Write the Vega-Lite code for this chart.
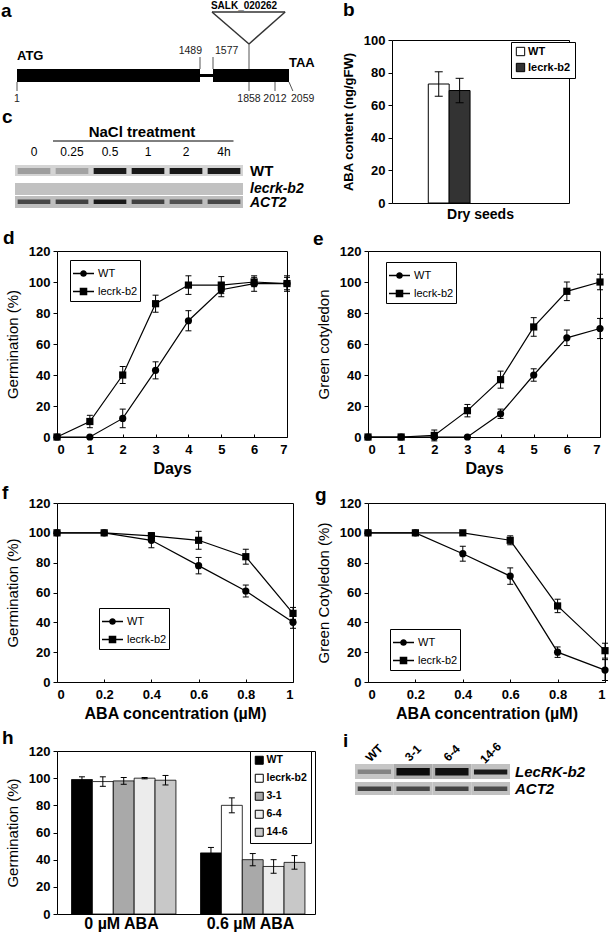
{
  "$schema": "https://vega.github.io/schema/vega-lite/v6.json",
  "background": "white",
  "padding": {"left": 1, "top": 0, "right": 0, "bottom": 0},
  "spacing": 6,
  "resolve": {"scale": {"fill": "independent", "shape": "independent", "color": "independent"}, "legend": {"fill": "independent", "shape": "independent", "color": "independent"}},
  "config": {
    "font": "Liberation Sans",
    "view": {"stroke": "black", "strokeWidth": 1},
    "axis": {"domain": false, "grid": false, "labelOverlap": false, "labelFontSize": 13, "labelFontWeight": "bold", "labelColor": "black", "titleColor": "black", "titleFontSize": 15, "titleFontWeight": "normal", "tickColor": "black", "labelFont": "Liberation Sans", "titleFont": "Liberation Sans"},
    "axisY": {"tickSize": 4, "labelPadding": 3, "titlePadding": 8},
    "axisX": {"tickSize": -3, "labelPadding": 9, "titleFontWeight": "bold", "titleFontSize": 16, "titlePadding": 4},
    "legend": {"labelFont": "Liberation Sans", "labelColor": "black"},
    "title": {"fontSize": 19, "fontWeight": "bold", "anchor": "start", "frame": "group", "baseline": "alphabetic", "color": "black", "font": "Liberation Sans"}
  },
  "datasets": {
    "aset": [
      {"k": "exon", "s": 1, "t": 1489, "y": 70, "y2": 83},
      {"k": "exon", "s": 1577, "t": 2059, "y": 70, "y2": 83},
      {"k": "intron", "s": 1489, "t": 1577, "y": 75, "y2": 78},
      {"k": "tick", "s": 1, "t": 1, "y": 83, "y2": 92},
      {"k": "tick", "s": 1489, "t": 1489, "y": 58, "y2": 70},
      {"k": "tick", "s": 1577, "t": 1577, "y": 58, "y2": 70},
      {"k": "tick", "s": 1858, "t": 1858, "y": 45, "y2": 92},
      {"k": "tick", "s": 2012, "t": 2012, "y": 83, "y2": 92},
      {"k": "tick", "s": 2059, "t": 2072, "y": 83, "y2": 92},
      {"k": "tri", "s": 1570, "t": 2046, "y": 13, "y2": 13},
      {"k": "tri", "s": 1570, "t": 1858, "y": 13, "y2": 45},
      {"k": "tri", "s": 2046, "t": 1858, "y": 13, "y2": 45},
      {"k": "numc", "s": 1, "y": 100, "label": "1"},
      {"k": "numc", "s": 1858, "y": 100, "label": "1858"},
      {"k": "numc", "s": 2012, "y": 100, "label": "2012"},
      {"k": "numl", "s": 2059, "y": 100, "label": "2059"},
      {"k": "numr", "s": 1489, "y": 52, "label": "1489"},
      {"k": "numl", "s": 1577, "y": 52, "label": "1577"},
      {"k": "codon", "s": 1, "y": 57, "label": "ATG"},
      {"k": "codon", "s": 2059, "y": 64, "label": "TAA"},
      {"k": "salk", "s": 1858, "y": 7, "label": "SALK_020262"}
    ],
    "cset": [
      {"lane": "0", "row": "WT", "top": 56, "bot": 67, "btop": 59, "bbot": 65, "bg": 0.15, "band": 0.35},
      {"lane": "0.25", "row": "WT", "top": 56, "bot": 67, "btop": 59, "bbot": 65, "bg": 0.15, "band": 0.33},
      {"lane": "0.5", "row": "WT", "top": 56, "bot": 67, "btop": 59, "bbot": 65, "bg": 0.15, "band": 0.9},
      {"lane": "1", "row": "WT", "top": 56, "bot": 67, "btop": 59, "bbot": 65, "bg": 0.15, "band": 0.92},
      {"lane": "2", "row": "WT", "top": 56, "bot": 67, "btop": 59, "bbot": 65, "bg": 0.15, "band": 0.92},
      {"lane": "4h", "row": "WT", "top": 56, "bot": 67, "btop": 59, "bbot": 65, "bg": 0.15, "band": 0.9},
      {"lane": "0", "row": "lecrk-b2", "top": 74, "bot": 86, "bg": 0.22},
      {"lane": "0.25", "row": "lecrk-b2", "top": 74, "bot": 86, "bg": 0.22},
      {"lane": "0.5", "row": "lecrk-b2", "top": 74, "bot": 86, "bg": 0.22},
      {"lane": "1", "row": "lecrk-b2", "top": 74, "bot": 86, "bg": 0.22},
      {"lane": "2", "row": "lecrk-b2", "top": 74, "bot": 86, "bg": 0.22},
      {"lane": "4h", "row": "lecrk-b2", "top": 74, "bot": 86, "bg": 0.22},
      {"lane": "0", "row": "ACT2", "top": 87, "bot": 99, "btop": 90.5, "bbot": 95, "bg": 0.23, "band": 0.7},
      {"lane": "0.25", "row": "ACT2", "top": 87, "bot": 99, "btop": 90.5, "bbot": 95, "bg": 0.23, "band": 0.72},
      {"lane": "0.5", "row": "ACT2", "top": 87, "bot": 99, "btop": 90.5, "bbot": 95, "bg": 0.23, "band": 0.9},
      {"lane": "1", "row": "ACT2", "top": 87, "bot": 99, "btop": 90.5, "bbot": 95, "bg": 0.23, "band": 0.72},
      {"lane": "2", "row": "ACT2", "top": 87, "bot": 99, "btop": 90.5, "bbot": 95, "bg": 0.23, "band": 0.65},
      {"lane": "4h", "row": "ACT2", "top": 87, "bot": 99, "btop": 90.5, "bbot": 95, "bg": 0.23, "band": 0.7}
    ],
    "ctext": [
      {"k": "letter", "t": "c", "lane": "0", "y": 8},
      {"k": "hdr", "t": "NaCl treatment", "lane": "1", "y": 23},
      {"k": "line", "lane": "0.25", "lane2": "4h", "y": 32},
      {"k": "num", "t": "0", "lane": "0", "y": 43},
      {"k": "num", "t": "0.25", "lane": "0.25", "y": 43},
      {"k": "num", "t": "0.5", "lane": "0.5", "y": 43},
      {"k": "num", "t": "1", "lane": "1", "y": 43},
      {"k": "num", "t": "2", "lane": "2", "y": 43},
      {"k": "num", "t": "4h", "lane": "4h", "y": 43},
      {"k": "rowN", "t": "WT", "lane": "4h", "y": 62},
      {"k": "rowI", "t": "lecrk-b2", "lane": "4h", "y": 79.5},
      {"k": "rowI", "t": "ACT2", "lane": "4h", "y": 94}
    ],
    "iset": [
      {"lane": "WT", "row": "LecRK-b2", "top": 13, "bot": 28, "btop": 18.5, "bbot": 23, "bg": 0.2, "band": 0.45},
      {"lane": "3-1", "row": "LecRK-b2", "top": 13, "bot": 28, "btop": 17, "bbot": 24.5, "bg": 0.3, "band": 0.97},
      {"lane": "6-4", "row": "LecRK-b2", "top": 13, "bot": 28, "btop": 17, "bbot": 24.5, "bg": 0.28, "band": 0.95},
      {"lane": "14-6", "row": "LecRK-b2", "top": 13, "bot": 28, "btop": 18.5, "bbot": 23.5, "bg": 0.22, "band": 0.9},
      {"lane": "WT", "row": "ACT2", "top": 31, "bot": 44, "btop": 35.5, "bbot": 40, "bg": 0.22, "band": 0.72},
      {"lane": "3-1", "row": "ACT2", "top": 31, "bot": 44, "btop": 35.5, "bbot": 40, "bg": 0.22, "band": 0.7},
      {"lane": "6-4", "row": "ACT2", "top": 31, "bot": 44, "btop": 35.5, "bbot": 40, "bg": 0.22, "band": 0.72},
      {"lane": "14-6", "row": "ACT2", "top": 31, "bot": 44, "btop": 35.5, "bbot": 40, "bg": 0.22, "band": 0.68}
    ],
    "itext": [
      {"k": "lane", "t": "WT", "lane": "WT", "y": 2},
      {"k": "lane", "t": "3-1", "lane": "3-1", "y": 2},
      {"k": "lane", "t": "6-4", "lane": "6-4", "y": 2},
      {"k": "lane", "t": "14-6", "lane": "14-6", "y": 2},
      {"k": "row", "t": "LecRK-b2", "lane": "14-6", "y": 21},
      {"k": "row", "t": "ACT2", "lane": "14-6", "y": 38}
    ],
    "bset": [
      {"cat": "Dry seeds", "gb": "WT", "v": 73, "e": 7.5},
      {"cat": "Dry seeds", "gb": "lecrk-b2", "v": 69, "e": 7.5}
    ],
    "dset": [
      {"x": 0, "g": "WT", "v": 0, "e": 0}, {"x": 1, "g": "WT", "v": 0, "e": 0}, {"x": 2, "g": "WT", "v": 12, "e": 6}, {"x": 3, "g": "WT", "v": 43, "e": 5.5},
      {"x": 4, "g": "WT", "v": 75, "e": 6.5}, {"x": 5, "g": "WT", "v": 95, "e": 4.5}, {"x": 6, "g": "WT", "v": 99, "e": 5}, {"x": 7, "g": "WT", "v": 99, "e": 5},
      {"x": 0, "g": "lecrk-b2", "v": 0, "e": 0}, {"x": 1, "g": "lecrk-b2", "v": 10, "e": 4}, {"x": 2, "g": "lecrk-b2", "v": 40, "e": 5.5}, {"x": 3, "g": "lecrk-b2", "v": 86, "e": 5.5},
      {"x": 4, "g": "lecrk-b2", "v": 98, "e": 6}, {"x": 5, "g": "lecrk-b2", "v": 98, "e": 5.5}, {"x": 6, "g": "lecrk-b2", "v": 100, "e": 3}, {"x": 7, "g": "lecrk-b2", "v": 99, "e": 4}
    ],
    "eset": [
      {"x": 0, "g": "WT", "v": 0, "e": 0}, {"x": 1, "g": "WT", "v": 0, "e": 0}, {"x": 2, "g": "WT", "v": 0, "e": 0}, {"x": 3, "g": "WT", "v": 0, "e": 0},
      {"x": 4, "g": "WT", "v": 15, "e": 3}, {"x": 5, "g": "WT", "v": 40, "e": 4}, {"x": 6, "g": "WT", "v": 64, "e": 5}, {"x": 7, "g": "WT", "v": 70, "e": 6.5},
      {"x": 0, "g": "lecrk-b2", "v": 0, "e": 0}, {"x": 1, "g": "lecrk-b2", "v": 0, "e": 0}, {"x": 2, "g": "lecrk-b2", "v": 1, "e": 3.5}, {"x": 3, "g": "lecrk-b2", "v": 17, "e": 4},
      {"x": 4, "g": "lecrk-b2", "v": 37, "e": 5.5}, {"x": 5, "g": "lecrk-b2", "v": 71, "e": 6}, {"x": 6, "g": "lecrk-b2", "v": 94, "e": 6}, {"x": 7, "g": "lecrk-b2", "v": 100, "e": 5}
    ],
    "fset": [
      {"x": 0, "g": "WT", "v": 100, "e": 0}, {"x": 0.2, "g": "WT", "v": 100, "e": 0}, {"x": 0.4, "g": "WT", "v": 95, "e": 5},
      {"x": 0.6, "g": "WT", "v": 78, "e": 5.5}, {"x": 0.8, "g": "WT", "v": 61, "e": 4}, {"x": 1, "g": "WT", "v": 40, "e": 4},
      {"x": 0, "g": "lecrk-b2", "v": 100, "e": 0}, {"x": 0.2, "g": "lecrk-b2", "v": 100, "e": 0}, {"x": 0.4, "g": "lecrk-b2", "v": 98, "e": 2},
      {"x": 0.6, "g": "lecrk-b2", "v": 95, "e": 6}, {"x": 0.8, "g": "lecrk-b2", "v": 84, "e": 5}, {"x": 1, "g": "lecrk-b2", "v": 46, "e": 4}
    ],
    "gset": [
      {"x": 0, "g": "WT", "v": 100, "e": 0}, {"x": 0.2, "g": "WT", "v": 100, "e": 0}, {"x": 0.4, "g": "WT", "v": 86, "e": 5},
      {"x": 0.6, "g": "WT", "v": 71, "e": 5.5}, {"x": 0.8, "g": "WT", "v": 20, "e": 3.5}, {"x": 1, "g": "WT", "v": 8, "e": 7},
      {"x": 0, "g": "lecrk-b2", "v": 100, "e": 0}, {"x": 0.2, "g": "lecrk-b2", "v": 100, "e": 0}, {"x": 0.4, "g": "lecrk-b2", "v": 100, "e": 0},
      {"x": 0.6, "g": "lecrk-b2", "v": 95, "e": 3}, {"x": 0.8, "g": "lecrk-b2", "v": 51, "e": 4.5}, {"x": 1, "g": "lecrk-b2", "v": 21, "e": 5}
    ],
    "hset": [
      {"c": "0 µM ABA", "gh": "WT", "v": 99, "e": 2}, {"c": "0 µM ABA", "gh": "lecrk-b2", "v": 97.5, "e": 3.5}, {"c": "0 µM ABA", "gh": "3-1", "v": 98, "e": 2.5},
      {"c": "0 µM ABA", "gh": "6-4", "v": 100, "e": 0.5}, {"c": "0 µM ABA", "gh": "14-6", "v": 98.5, "e": 3.5},
      {"c": "0.6 µM ABA", "gh": "WT", "v": 45, "e": 4}, {"c": "0.6 µM ABA", "gh": "lecrk-b2", "v": 80, "e": 5.5}, {"c": "0.6 µM ABA", "gh": "3-1", "v": 40, "e": 4.5},
      {"c": "0.6 µM ABA", "gh": "6-4", "v": 35, "e": 5}, {"c": "0.6 µM ABA", "gh": "14-6", "v": 38, "e": 5}
    ]
  },
  "vconcat": [
    {
      "bounds": "flush",
      "spacing": 103,
      "resolve": {"scale": {"fill": "independent", "color": "independent"}, "legend": {"fill": "independent", "color": "independent"}},
      "hconcat": [
        {
          "title": {"text": "a", "dx": -56, "offset": -19.5},
          "width": 232, "height": 169,
          "view": {"stroke": null},
          "layer": [
            {
              "data": {"name": "aset"},
              "encoding": {
                "x": {"field": "s", "type": "quantitative", "scale": {"domain": [1, 1489, 1577, 1858, 2012, 2059], "range": [-40, 143, 156, 192, 218, 232], "nice": false, "zero": false}, "axis": null},
                "y": {"field": "y", "type": "quantitative", "scale": {"domain": [0, 100], "range": [-41, 59], "nice": false, "zero": false}, "axis": null}
              },
              "layer": [
                {"transform": [{"filter": "datum.k === 'tick'"}], "mark": {"type": "rule", "color": "#555555", "strokeWidth": 1}, "encoding": {"x2": {"field": "t"}, "y2": {"field": "y2"}}},
                {"transform": [{"filter": "datum.k === 'tri'"}], "mark": {"type": "rule", "color": "#333333", "strokeWidth": 1.5}, "encoding": {"x2": {"field": "t"}, "y2": {"field": "y2"}}},
                {"transform": [{"filter": "datum.k === 'exon' || datum.k === 'intron'"}], "mark": {"type": "rect", "color": "black"}, "encoding": {"x2": {"field": "t"}, "y2": {"field": "y2"}}},
                {"transform": [{"filter": "datum.k === 'numc'"}], "mark": {"type": "text", "fontSize": 10.5, "align": "center", "baseline": "middle", "color": "#222222"}, "encoding": {"text": {"field": "label"}}},
                {"transform": [{"filter": "datum.k === 'numl'"}], "mark": {"type": "text", "fontSize": 10.5, "align": "left", "baseline": "middle", "dx": 2, "color": "#222222"}, "encoding": {"text": {"field": "label"}}},
                {"transform": [{"filter": "datum.k === 'numr'"}], "mark": {"type": "text", "fontSize": 10.5, "align": "right", "baseline": "middle", "dx": 2, "color": "#222222"}, "encoding": {"text": {"field": "label"}}},
                {"transform": [{"filter": "datum.k === 'codon'"}], "mark": {"type": "text", "fontSize": 13, "fontWeight": "bold", "align": "left", "baseline": "middle", "color": "black"}, "encoding": {"text": {"field": "label"}}},
                {"transform": [{"filter": "datum.k === 'salk'"}], "mark": {"type": "text", "fontSize": 10, "fontWeight": "bold", "align": "center", "baseline": "middle", "dx": -5, "color": "black"}, "encoding": {"text": {"field": "label"}}}
              ]
            },
            {
              "layer": [
                {
                  "data": {"name": "cset"},
                  "mark": {"type": "rect"},
                  "encoding": {
                    "x": {"field": "lane", "type": "ordinal", "sort": null, "scale": {"domain": ["0", "0.25", "0.5", "1", "2", "4h"], "range": [-42, 186], "paddingInner": 0, "paddingOuter": 0}, "axis": null},
                    "y": {"field": "top", "type": "quantitative", "scale": {"domain": [0, 100], "range": [69, 169], "nice": false, "zero": false}, "axis": null},
                    "y2": {"field": "bot"},
                    "color": {"field": "bg", "type": "quantitative", "scale": {"domain": [0, 1], "range": ["#ffffff", "#000000"]}, "legend": null}
                  }
                },
                {
                  "data": {"name": "cset"},
                  "transform": [{"filter": "isValid(datum.band)"}],
                  "mark": {"type": "rect", "width": {"band": 0.86}},
                  "encoding": {
                    "x": {"field": "lane", "type": "ordinal", "sort": null},
                    "y": {"field": "btop", "type": "quantitative"},
                    "y2": {"field": "bbot"},
                    "color": {"field": "band", "type": "quantitative", "legend": null}
                  }
                },
                {
                  "data": {"name": "ctext"},
                  "transform": [{"filter": "datum.k === 'letter'"}],
                  "mark": {"type": "text", "fontSize": 19, "fontWeight": "bold", "align": "left", "baseline": "middle", "dx": -13, "color": "black"},
                  "encoding": {"x": {"field": "lane", "type": "ordinal", "bandPosition": 0}, "y": {"field": "y", "type": "quantitative"}, "text": {"field": "t"}}
                },
                {
                  "data": {"name": "ctext"},
                  "transform": [{"filter": "datum.k === 'hdr'"}],
                  "mark": {"type": "text", "fontSize": 15, "fontWeight": "bold", "align": "center", "baseline": "middle", "dx": -6, "color": "black"},
                  "encoding": {"x": {"field": "lane", "type": "ordinal"}, "y": {"field": "y", "type": "quantitative"}, "text": {"field": "t"}}
                },
                {
                  "data": {"name": "ctext"},
                  "transform": [{"filter": "datum.k === 'line'"}],
                  "mark": {"type": "rule", "color": "black", "strokeWidth": 1},
                  "encoding": {"x": {"field": "lane", "type": "ordinal", "bandPosition": 0}, "x2": {"field": "lane2", "bandPosition": 0.75}, "y": {"field": "y", "type": "quantitative"}}
                },
                {
                  "data": {"name": "ctext"},
                  "transform": [{"filter": "datum.k === 'num'"}],
                  "mark": {"type": "text", "fontSize": 12, "align": "center", "baseline": "middle", "color": "black"},
                  "encoding": {"x": {"field": "lane", "type": "ordinal"}, "y": {"field": "y", "type": "quantitative"}, "text": {"field": "t"}}
                },
                {
                  "data": {"name": "ctext"},
                  "transform": [{"filter": "datum.k === 'rowN'"}],
                  "mark": {"type": "text", "fontSize": 15, "fontWeight": "bold", "align": "left", "baseline": "middle", "dx": 7, "color": "black"},
                  "encoding": {"x": {"field": "lane", "type": "ordinal", "bandPosition": 1}, "y": {"field": "y", "type": "quantitative"}, "text": {"field": "t"}}
                },
                {
                  "data": {"name": "ctext"},
                  "transform": [{"filter": "datum.k === 'rowI'"}],
                  "mark": {"type": "text", "fontSize": 14, "fontWeight": "bold", "fontStyle": "italic", "align": "left", "baseline": "middle", "dx": 7, "color": "black"},
                  "encoding": {"x": {"field": "lane", "type": "ordinal", "bandPosition": 1}, "y": {"field": "y", "type": "quantitative"}, "text": {"field": "t"}}
                }
              ]
            }
          ],
          "resolve": {"scale": {"x": "independent", "y": "independent", "color": "independent"}}
        },
        {
          "title": {"text": "b", "dx": -49, "offset": 14},
          "width": 177, "height": 163,
          "data": {"name": "bset"},
          "encoding": {
            "x": {"field": "cat", "type": "nominal", "scale": {"paddingInner": 0.41, "paddingOuter": 0.205}, "axis": {"title": null, "labelAngle": 0, "ticks": false, "labelFontSize": 14, "labelPadding": 4}},
            "xOffset": {"field": "gb", "type": "nominal", "sort": null, "scale": {"domain": ["WT", "lecrk-b2"], "paddingInner": 0, "paddingOuter": 0}},
            "y": {"field": "v", "type": "quantitative", "scale": {"domain": [0, 100], "nice": false}, "axis": {"values": [0, 20, 40, 60, 80, 100], "title": "ABA content (ng/gFW)", "titleFontWeight": "bold", "titleFontSize": 13}}
          },
          "layer": [
            {
              "mark": {"type": "bar", "stroke": "black", "strokeWidth": 1, "opacity": 1},
              "encoding": {
                "fill": {"field": "gb", "type": "nominal", "sort": null, "scale": {"domain": ["WT", "lecrk-b2"], "range": ["#ffffff", "#333333"]},
                  "legend": {"title": null, "orient": "none", "legendX": 119, "legendY": 2, "strokeColor": "black", "fillColor": "white", "padding": 4, "rowPadding": 3, "symbolType": "square", "symbolSize": 70, "symbolStrokeColor": "black", "symbolStrokeWidth": 1, "labelFontSize": 11, "labelFontWeight": "bold", "labelOffset": 2,
                    "encode": {"labels": {"update": {"fontStyle": {"signal": "datum.value === 'lecrk-b2' ? 'italic' : 'normal'"}}}}}}
              }
            },
            {
              "transform": [{"calculate": "datum.v - datum.e", "as": "lo"}, {"calculate": "datum.v + datum.e", "as": "hi"}],
              "mark": {"type": "rule", "color": "black", "strokeWidth": 1},
              "encoding": {"y": {"field": "lo", "type": "quantitative"}, "y2": {"field": "hi"}}
            },
            {
              "transform": [{"calculate": "datum.v - datum.e", "as": "lo"}, {"calculate": "datum.v + datum.e", "as": "hi"}, {"fold": ["lo", "hi"], "as": ["bnd", "bv"]}],
              "mark": {"type": "tick", "color": "black", "thickness": 1, "size": 8, "orient": "horizontal", "opacity": 1},
              "encoding": {"y": {"field": "bv", "type": "quantitative"}}
            }
          ]
        }
      ]
    },
    {
      "bounds": "flush",
      "spacing": 81,
      "hconcat": [
        {
          "title": {"text": "d", "dx": -54, "offset": -3},
          "width": 230, "height": 186,
          "data": {"name": "dset"},
          "encoding": {
            "x": {"field": "x", "type": "quantitative", "scale": {"domain": [0, 7], "nice": false, "zero": false}, "axis": {"values": [0, 1, 2, 3, 4, 5, 6, 7], "title": "Days"}},
            "y": {"field": "v", "type": "quantitative", "scale": {"domain": [0, 120], "nice": false}, "axis": {"values": [0, 20, 40, 60, 80, 100, 120], "title": "Germination (%)"}}
          },
          "layer": [
            {"mark": {"type": "line", "color": "black", "strokeWidth": 1.2}, "encoding": {"detail": {"field": "g", "type": "nominal"}}},
            {"transform": [{"filter": "datum.e > 0"}, {"calculate": "datum.v - datum.e", "as": "lo"}, {"calculate": "datum.v + datum.e", "as": "hi"}], "mark": {"type": "rule", "color": "black", "strokeWidth": 1}, "encoding": {"y": {"field": "lo", "type": "quantitative"}, "y2": {"field": "hi"}}},
            {"transform": [{"filter": "datum.e > 0"}, {"calculate": "datum.v - datum.e", "as": "lo"}, {"calculate": "datum.v + datum.e", "as": "hi"}, {"fold": ["lo", "hi"], "as": ["bnd", "bv"]}], "mark": {"type": "tick", "color": "black", "thickness": 1, "size": 6, "orient": "horizontal", "opacity": 1}, "encoding": {"y": {"field": "bv", "type": "quantitative"}}},
            {"mark": {"type": "point", "filled": true, "color": "black", "opacity": 1, "size": 52}, "encoding": {"shape": {"field": "g", "type": "nominal", "scale": {"domain": ["WT", "lecrk-b2"], "range": ["circle", "square"]}, "legend": null}}},
            {"data": {"values": []}, "mark": {"type": "point", "filled": true, "color": "black", "opacity": 1, "size": 441},
              "encoding": {"shape": {"field": "g", "type": "nominal", "scale": {"domain": ["WT", "lecrk-b2"], "range": ["M-1,-0.06H1V0.06H-1Z M0.32,0A0.32,0.32 0 1,1 -0.32,0A0.32,0.32 0 1,1 0.32,0Z", "M-1,-0.06H1V0.06H-1Z M-0.36,-0.36H0.36V0.36H-0.36Z"]},
                "legend": {"title": null, "orient": "none", "legendX": 13, "legendY": 9, "strokeColor": "black", "fillColor": "white", "padding": 2, "rowPadding": 0, "symbolSize": 441, "labelFontSize": 11, "labelOffset": 3,
                  "encode": {"labels": {"update": {"fontStyle": {"signal": "datum.value === 'lecrk-b2' ? 'italic' : 'normal'"}}}}}}}}
          ],
          "resolve": {"scale": {"shape": "independent"}}
        },
        {
          "title": {"text": "e", "dx": -55, "offset": -4},
          "width": 232, "height": 186,
          "data": {"name": "eset"},
          "encoding": {
            "x": {"field": "x", "type": "quantitative", "scale": {"domain": [0, 7], "nice": false, "zero": false}, "axis": {"values": [0, 1, 2, 3, 4, 5, 6, 7], "title": "Days"}},
            "y": {"field": "v", "type": "quantitative", "scale": {"domain": [0, 120], "nice": false}, "axis": {"values": [0, 20, 40, 60, 80, 100, 120], "title": "Green cotyledon"}}
          },
          "layer": [
            {"mark": {"type": "line", "color": "black", "strokeWidth": 1.2}, "encoding": {"detail": {"field": "g", "type": "nominal"}}},
            {"transform": [{"filter": "datum.e > 0"}, {"calculate": "datum.v - datum.e", "as": "lo"}, {"calculate": "datum.v + datum.e", "as": "hi"}], "mark": {"type": "rule", "color": "black", "strokeWidth": 1}, "encoding": {"y": {"field": "lo", "type": "quantitative"}, "y2": {"field": "hi"}}},
            {"transform": [{"filter": "datum.e > 0"}, {"calculate": "datum.v - datum.e", "as": "lo"}, {"calculate": "datum.v + datum.e", "as": "hi"}, {"fold": ["lo", "hi"], "as": ["bnd", "bv"]}], "mark": {"type": "tick", "color": "black", "thickness": 1, "size": 6, "orient": "horizontal", "opacity": 1}, "encoding": {"y": {"field": "bv", "type": "quantitative"}}},
            {"mark": {"type": "point", "filled": true, "color": "black", "opacity": 1, "size": 52}, "encoding": {"shape": {"field": "g", "type": "nominal", "scale": {"domain": ["WT", "lecrk-b2"], "range": ["circle", "square"]}, "legend": null}}},
            {"data": {"values": []}, "mark": {"type": "point", "filled": true, "color": "black", "opacity": 1, "size": 441},
              "encoding": {"shape": {"field": "g", "type": "nominal", "scale": {"domain": ["WT", "lecrk-b2"], "range": ["M-1,-0.06H1V0.06H-1Z M0.32,0A0.32,0.32 0 1,1 -0.32,0A0.32,0.32 0 1,1 0.32,0Z", "M-1,-0.06H1V0.06H-1Z M-0.36,-0.36H0.36V0.36H-0.36Z"]},
                "legend": {"title": null, "orient": "none", "legendX": 18, "legendY": 11, "strokeColor": "black", "fillColor": "white", "padding": 2, "rowPadding": 0, "symbolSize": 441, "labelFontSize": 11, "labelOffset": 3,
                  "encode": {"labels": {"update": {"fontStyle": {"signal": "datum.value === 'lecrk-b2' ? 'italic' : 'normal'"}}}}}}}}
          ],
          "resolve": {"scale": {"shape": "independent"}}
        }
      ]
    },
    {
      "bounds": "flush",
      "spacing": 75,
      "hconcat": [
        {
          "title": {"text": "f", "dx": -55, "offset": -6},
          "width": 236, "height": 179,
          "data": {"name": "fset"},
          "encoding": {
            "x": {"field": "x", "type": "quantitative", "scale": {"domain": [0, 1], "nice": false, "zero": false}, "axis": {"values": [0, 0.2, 0.4, 0.6, 0.8, 1], "format": "~g", "title": "ABA concentration (µM)"}},
            "y": {"field": "v", "type": "quantitative", "scale": {"domain": [0, 120], "nice": false}, "axis": {"values": [0, 20, 40, 60, 80, 100, 120], "title": "Germination (%)"}}
          },
          "layer": [
            {"mark": {"type": "line", "color": "black", "strokeWidth": 1.2}, "encoding": {"detail": {"field": "g", "type": "nominal"}}},
            {"transform": [{"filter": "datum.e > 0"}, {"calculate": "datum.v - datum.e", "as": "lo"}, {"calculate": "datum.v + datum.e", "as": "hi"}], "mark": {"type": "rule", "color": "black", "strokeWidth": 1}, "encoding": {"y": {"field": "lo", "type": "quantitative"}, "y2": {"field": "hi"}}},
            {"transform": [{"filter": "datum.e > 0"}, {"calculate": "datum.v - datum.e", "as": "lo"}, {"calculate": "datum.v + datum.e", "as": "hi"}, {"fold": ["lo", "hi"], "as": ["bnd", "bv"]}], "mark": {"type": "tick", "color": "black", "thickness": 1, "size": 6, "orient": "horizontal", "opacity": 1}, "encoding": {"y": {"field": "bv", "type": "quantitative"}}},
            {"mark": {"type": "point", "filled": true, "color": "black", "opacity": 1, "size": 52}, "encoding": {"shape": {"field": "g", "type": "nominal", "scale": {"domain": ["WT", "lecrk-b2"], "range": ["circle", "square"]}, "legend": null}}},
            {"data": {"values": []}, "mark": {"type": "point", "filled": true, "color": "black", "opacity": 1, "size": 441},
              "encoding": {"shape": {"field": "g", "type": "nominal", "scale": {"domain": ["WT", "lecrk-b2"], "range": ["M-1,-0.06H1V0.06H-1Z M0.32,0A0.32,0.32 0 1,1 -0.32,0A0.32,0.32 0 1,1 0.32,0Z", "M-1,-0.06H1V0.06H-1Z M-0.36,-0.36H0.36V0.36H-0.36Z"]},
                "legend": {"title": null, "orient": "none", "legendX": 42, "legendY": 105, "strokeColor": "black", "fillColor": "white", "padding": 2, "rowPadding": 0, "symbolSize": 441, "labelFontSize": 11, "labelOffset": 3,
                  "encode": {"labels": {"update": {"fontStyle": {"signal": "datum.value === 'lecrk-b2' ? 'italic' : 'normal'"}}}}}}}}
          ],
          "resolve": {"scale": {"shape": "independent"}}
        },
        {
          "title": {"text": "g", "dx": -53, "offset": -8},
          "width": 237, "height": 179,
          "data": {"name": "gset"},
          "encoding": {
            "x": {"field": "x", "type": "quantitative", "scale": {"domain": [0, 1], "nice": false, "zero": false}, "axis": {"values": [0, 0.2, 0.4, 0.6, 0.8, 1], "format": "~g", "title": "ABA concentration (µM)"}},
            "y": {"field": "v", "type": "quantitative", "scale": {"domain": [0, 120], "nice": false}, "axis": {"values": [0, 20, 40, 60, 80, 100, 120], "title": "Green Cotyledon (%)"}}
          },
          "layer": [
            {"mark": {"type": "line", "color": "black", "strokeWidth": 1.2}, "encoding": {"detail": {"field": "g", "type": "nominal"}}},
            {"transform": [{"filter": "datum.e > 0"}, {"calculate": "datum.v - datum.e", "as": "lo"}, {"calculate": "datum.v + datum.e", "as": "hi"}], "mark": {"type": "rule", "color": "black", "strokeWidth": 1}, "encoding": {"y": {"field": "lo", "type": "quantitative"}, "y2": {"field": "hi"}}},
            {"transform": [{"filter": "datum.e > 0"}, {"calculate": "datum.v - datum.e", "as": "lo"}, {"calculate": "datum.v + datum.e", "as": "hi"}, {"fold": ["lo", "hi"], "as": ["bnd", "bv"]}], "mark": {"type": "tick", "color": "black", "thickness": 1, "size": 6, "orient": "horizontal", "opacity": 1}, "encoding": {"y": {"field": "bv", "type": "quantitative"}}},
            {"mark": {"type": "point", "filled": true, "color": "black", "opacity": 1, "size": 52}, "encoding": {"shape": {"field": "g", "type": "nominal", "scale": {"domain": ["WT", "lecrk-b2"], "range": ["circle", "square"]}, "legend": null}}},
            {"data": {"values": []}, "mark": {"type": "point", "filled": true, "color": "black", "opacity": 1, "size": 441},
              "encoding": {"shape": {"field": "g", "type": "nominal", "scale": {"domain": ["WT", "lecrk-b2"], "range": ["M-1,-0.06H1V0.06H-1Z M0.32,0A0.32,0.32 0 1,1 -0.32,0A0.32,0.32 0 1,1 0.32,0Z", "M-1,-0.06H1V0.06H-1Z M-0.36,-0.36H0.36V0.36H-0.36Z"]},
                "legend": {"title": null, "orient": "none", "legendX": 22, "legendY": 126, "strokeColor": "black", "fillColor": "white", "padding": 2, "rowPadding": 0, "symbolSize": 441, "labelFontSize": 11, "labelOffset": 3,
                  "encode": {"labels": {"update": {"fontStyle": {"signal": "datum.value === 'lecrk-b2' ? 'italic' : 'normal'"}}}}}}}}
          ],
          "resolve": {"scale": {"shape": "independent"}}
        }
      ]
    },
    {
      "bounds": "flush",
      "spacing": 40,
      "resolve": {"scale": {"fill": "independent", "color": "independent"}, "legend": {"fill": "independent", "color": "independent"}},
      "hconcat": [
        {
          "title": {"text": "h", "dx": -55, "offset": -3},
          "width": 258, "height": 163,
          "data": {"name": "hset"},
          "encoding": {
            "x": {"field": "c", "type": "nominal", "sort": null, "scale": {"domain": ["0 µM ABA", "0.6 µM ABA"], "paddingInner": 0.225, "paddingOuter": 0.1125}, "axis": {"title": null, "labelAngle": 0, "ticks": false, "labelFontSize": 16, "labelPadding": 1}},
            "xOffset": {"field": "gh", "type": "nominal", "sort": null, "scale": {"domain": ["WT", "lecrk-b2", "3-1", "6-4", "14-6"], "paddingInner": 0, "paddingOuter": 0}},
            "y": {"field": "v", "type": "quantitative", "scale": {"domain": [0, 120], "nice": false}, "axis": {"values": [0, 20, 40, 60, 80, 100, 120], "title": "Germination (%)"}}
          },
          "layer": [
            {
              "mark": {"type": "bar", "stroke": "black", "strokeWidth": 0.8, "opacity": 1},
              "encoding": {
                "fill": {"field": "gh", "type": "nominal", "sort": null, "scale": {"domain": ["WT", "lecrk-b2", "3-1", "6-4", "14-6"], "range": ["#000000", "#ffffff", "#a9a9a9", "#ececec", "#c8c8c8"]},
                  "legend": {"title": null, "orient": "none", "legendX": 193, "legendY": 0, "strokeColor": "black", "fillColor": "white", "padding": 4, "rowPadding": 5, "symbolType": "square", "symbolSize": 64, "symbolStrokeColor": "black", "symbolStrokeWidth": 1, "labelFontSize": 10.5, "labelFontWeight": "bold", "labelOffset": 2,
                    "encode": {"labels": {"update": {"fontStyle": {"signal": "datum.value === 'lecrk-b2' ? 'italic' : 'normal'"}}}}}}
              }
            },
            {
              "transform": [{"calculate": "datum.v - datum.e", "as": "lo"}, {"calculate": "datum.v + datum.e", "as": "hi"}],
              "mark": {"type": "rule", "color": "black", "strokeWidth": 1},
              "encoding": {"y": {"field": "lo", "type": "quantitative"}, "y2": {"field": "hi"}}
            },
            {
              "transform": [{"calculate": "datum.v - datum.e", "as": "lo"}, {"calculate": "datum.v + datum.e", "as": "hi"}, {"fold": ["lo", "hi"], "as": ["bnd", "bv"]}],
              "mark": {"type": "tick", "color": "black", "thickness": 1, "size": 6, "orient": "horizontal", "opacity": 1},
              "encoding": {"y": {"field": "bv", "type": "quantitative"}}
            }
          ]
        },
        {
          "title": {"text": "i", "dx": -12, "offset": -11},
          "width": 155, "height": 60,
          "view": {"stroke": null},
          "layer": [
            {
              "data": {"name": "iset"},
              "mark": {"type": "rect"},
              "encoding": {
                "x": {"field": "lane", "type": "ordinal", "sort": null, "scale": {"domain": ["WT", "3-1", "6-4", "14-6"], "paddingInner": 0, "paddingOuter": 0}, "axis": null},
                "y": {"field": "top", "type": "quantitative", "scale": {"domain": [0, 60], "reverse": true, "nice": false, "zero": false}, "axis": null},
                "y2": {"field": "bot"},
                "color": {"field": "bg", "type": "quantitative", "scale": {"domain": [0, 1], "range": ["#ffffff", "#000000"]}, "legend": null}
              }
            },
            {
              "data": {"name": "iset"},
              "mark": {"type": "rect", "width": {"band": 0.86}},
              "encoding": {
                "x": {"field": "lane", "type": "ordinal", "sort": null},
                "y": {"field": "btop", "type": "quantitative"},
                "y2": {"field": "bbot"},
                "color": {"field": "band", "type": "quantitative", "legend": null}
              }
            },
            {
              "data": {"name": "itext"},
              "transform": [{"filter": "datum.k === 'lane'"}],
              "mark": {"type": "text", "fontSize": 12, "fontWeight": "bold", "align": "center", "baseline": "middle", "angle": -45, "color": "black"},
              "encoding": {"x": {"field": "lane", "type": "ordinal", "sort": null}, "y": {"field": "y", "type": "quantitative"}, "text": {"field": "t"}}
            },
            {
              "data": {"name": "itext"},
              "transform": [{"filter": "datum.k === 'row'"}],
              "mark": {"type": "text", "fontSize": 15, "fontWeight": "bold", "fontStyle": "italic", "align": "left", "baseline": "middle", "dx": 5, "color": "black"},
              "encoding": {"x": {"field": "lane", "type": "ordinal", "sort": null, "bandPosition": 1}, "y": {"field": "y", "type": "quantitative"}, "text": {"field": "t"}}
            }
          ]
        }
      ]
    }
  ]
}
